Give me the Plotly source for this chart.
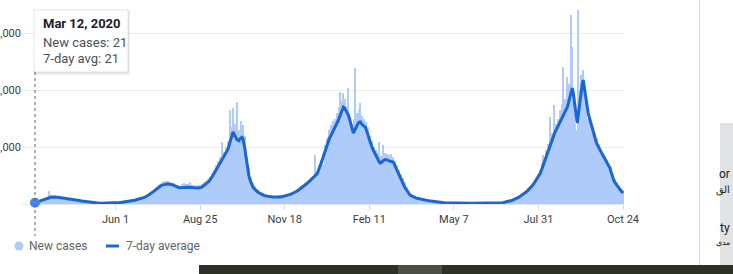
import pandas as pd
import plotly.graph_objects as go

# ---------------- data ----------------
start_date = "2020-03-12"

new_cases = [
    21, 18, 35, 30, 55, 40, 62, 75, 60, 95, 70, 110, 85, 130, 228, 90, 150, 105, 140, 118, 160,
    110, 135, 95, 140, 100, 125, 88, 110, 95, 80, 105, 70, 98, 85, 75, 95, 68, 88, 72, 80, 60, 78, 62, 70, 55,
    65, 48, 58, 42, 52, 38, 45, 30, 40, 28, 34, 22, 30, 18, 24, 14, 20, 12, 18, 10,
    14, 9, 15, 11, 16, 10, 15, 13, 17, 12, 18, 14, 19, 15, 22,
    17, 24, 20, 27, 22, 32, 26, 36, 30, 40, 33, 46, 38, 52, 44, 58,
    48, 64, 55, 72, 62, 80, 70, 90, 78, 100, 85, 118, 95, 135, 110, 150, 128,
    175, 140, 205, 160, 235, 190, 270, 215, 300, 245, 330, 260, 355,
    290, 380, 300, 395, 310, 410, 320, 405, 300, 390,
    310, 370, 280, 360, 255, 340, 240, 330, 220, 320,
    260, 345, 240, 360, 250, 355, 235, 350, 230, 380, 220, 340, 230, 330, 225, 320, 215, 335, 230, 330,
    250, 345, 260, 380, 290, 400, 310, 430, 340, 470,
    380, 540, 420, 600, 480, 680, 510, 760, 560, 830,
    640, 1088, 700, 920, 760, 1000, 830,
    1100, 880, 1650, 1000, 1350, 1684,
    1150, 1400, 950, 1790,
    900, 1300, 1000, 1450, 1050, 1380,
    880, 1200, 700, 820, 500, 640, 380, 450, 280, 360,
    240, 310, 200, 270, 180, 240, 160, 210, 150, 190,
    130, 175, 120, 165, 115, 155, 110, 150, 105, 145, 100, 148, 102, 145, 100, 150, 105,
    150, 110, 160, 115, 165, 120, 175, 130, 185, 140, 200, 150, 215, 165,
    230, 180, 255, 195, 280, 215, 310, 240, 340, 265, 370, 290, 400, 320,
    420, 340, 460, 370, 500, 400, 860, 440, 580, 470,
    680, 520, 780, 600, 880, 680, 980, 1035, 820, 1158,
    1050, 1300, 1000, 1380, 1100, 1450, 1150, 1500, 1200, 1600,
    1300, 1700, 1965, 1500, 1800, 1947,
    1400, 1850, 1350, 1700, 2035,
    1200, 1550, 900, 1400, 1000,
    1500, 2386, 1250, 1600, 1300, 1650, 1772,
    1200, 1550, 1150, 1500, 1250,
    1439, 1050, 1350, 950, 1200, 850, 1100, 800,
    1000, 700, 950, 650, 900, 1088, 600,
    850, 620, 1035, 650, 900, 700, 880,
    650, 860, 600, 880, 640, 820,
    560, 760, 480, 680, 420, 600, 380,
    520, 330, 460, 260, 380, 200, 300, 160, 230, 130,
    180, 110, 160, 95, 140, 88, 125, 80, 110, 75,
    100, 70, 95, 62, 88, 55, 80, 50, 72, 45, 65, 40, 58, 36, 52, 32, 48, 28, 42, 26, 36, 22, 32, 20, 28, 18, 24, 16,
    22, 14, 20, 13, 19, 12, 18, 12, 17, 11, 17, 10, 16, 10, 16, 9, 15, 9, 15, 9,
    14, 8, 14, 8, 14, 9, 13, 8, 14, 9, 13, 9, 14, 9, 15, 10, 15, 10, 15, 10,
    15, 10, 16, 10, 16, 10, 16, 11, 17, 11,
    19, 12, 22, 15, 27, 18, 34, 22, 42, 30, 55, 38, 68, 48, 82, 58, 98, 70, 115, 85,
    135, 100, 155, 120, 180, 140, 210, 165, 240, 190, 280, 220, 320,
    260, 360, 290, 410, 330, 460, 380, 520, 430, 600,
    500, 720, 860, 820, 640, 950, 780, 1050, 900, 1526,
    980, 1250, 1050, 1737, 1100, 1400, 1200, 1500, 1250, 1650,
    1300, 1750, 2400, 1450, 1850, 1500, 2228,
    1600, 2100, 1700, 3316, 2754,
    1800, 1600, 1400, 1300, 40,
    3404, 1700, 2000, 2263, 1850, 2350,
    1700, 1900, 1825, 1500, 1400,
    1600, 1300, 1450, 1200, 1350, 1100, 1250, 1000, 1150, 950, 1050, 900,
    950, 780, 900, 720, 840, 660, 780, 620, 700, 560,
    620, 460, 520, 400, 440, 340,
    380, 290, 320, 240, 270, 200, 230,
]

avg_7day = [
    21, 25, 30, 36, 42, 50, 58, 65, 72, 80, 88, 95, 100, 106, 112, 116, 119, 121, 123, 124, 123,
    122, 120, 118, 116, 112, 108, 104, 100, 96, 93, 90, 88, 86, 84, 82, 80, 78, 76, 74, 72, 70, 68, 66, 63, 60,
    57, 54, 51, 48, 45, 42, 39, 36, 33, 30, 27, 25, 23, 21, 19, 17, 16, 15, 14, 13,
    12, 12, 12, 12, 13, 13, 13, 14, 14, 15, 15, 16, 16, 17, 18,
    19, 20, 22, 23, 25, 27, 29, 31, 33, 35, 37, 40, 42, 45, 48, 50,
    54, 58, 62, 66, 70, 74, 78, 82, 86, 90, 96, 103, 110, 117, 124, 132, 140,
    152, 165, 178, 192, 206, 220, 235, 250, 264, 278, 290, 302, 316,
    324, 331, 337, 342, 346, 349, 351, 352, 351, 350,
    345, 338, 330, 321, 312, 303, 296, 290, 286, 284,
    286, 290, 294, 297, 299, 298, 296, 293, 291, 295, 292, 288, 285, 283, 282, 281, 280, 279, 280, 282,
    290, 300, 312, 325, 340, 355, 370, 385, 400, 420,
    445, 475, 505, 535, 565, 595, 625, 655, 690, 720,
    745, 770, 795, 825, 855, 885, 910,
    960, 1020, 1080, 1140, 1200, 1263,
    1230, 1190, 1150, 1130,
    1120, 1110, 1140, 1160, 1170, 1150,
    1080, 970, 840, 700, 590, 500, 430, 375, 330, 300,
    275, 255, 238, 222, 208, 196, 185, 175, 166, 158,
    152, 146, 141, 137, 134, 131, 129, 127, 125, 124, 123, 122, 122, 122, 122, 123, 123,
    125, 128, 131, 135, 139, 143, 148, 153, 158, 164, 170, 177, 185, 193,
    202, 212, 222, 233, 245, 257, 270, 283, 296, 310, 324, 338, 353, 368,
    383, 398, 414, 430, 446, 463, 480, 498, 520, 544,
    585, 630, 680, 735, 790, 845, 900, 955, 1010, 1070,
    1110, 1150, 1185, 1220, 1255, 1290, 1320, 1350, 1385, 1421,
    1470, 1520, 1570, 1620, 1665, 1702,
    1690, 1660, 1620, 1590, 1561,
    1500, 1430, 1360, 1290, 1246,
    1280, 1320, 1360, 1390, 1420, 1435, 1439,
    1410, 1390, 1375, 1360, 1351,
    1310, 1260, 1200, 1140, 1080, 1030, 985, 947,
    910, 870, 830, 795, 765, 740, 719,
    725, 740, 760, 775, 780, 778, 772,
    765, 750, 740, 745, 742, 737,
    705, 665, 620, 575, 530, 500, 474,
    440, 400, 360, 320, 285, 255, 230, 205, 180, 158,
    145, 135, 127, 120, 113, 107, 101, 96, 92, 88,
    85, 81, 77, 73, 69, 65, 62, 59, 56, 53, 50, 47, 45, 43, 41, 39, 37, 35, 33, 31, 29, 27, 25, 23, 22, 21, 19, 18,
    18, 17, 17, 16, 16, 15, 15, 15, 14, 14, 14, 13, 13, 13, 13, 12, 12, 12, 12, 12,
    11, 11, 11, 11, 11, 11, 11, 11, 11, 11, 11, 11, 11, 11, 12, 12, 12, 12, 12, 12,
    12, 12, 12, 12, 12, 12, 12, 12, 12, 13,
    14, 16, 18, 20, 23, 26, 29, 33, 37, 41, 46, 51, 56, 62, 68, 74, 81, 88, 96, 105,
    115, 126, 137, 149, 161, 174, 187, 201, 215, 230, 246, 263, 280,
    300, 322, 346, 372, 399, 428, 458, 489, 516, 544,
    590, 640, 695, 750, 805, 860, 915, 965, 1015, 1070,
    1110, 1150, 1190, 1230, 1270, 1305, 1340, 1375, 1405, 1439,
    1480, 1520, 1560, 1600, 1640, 1670, 1700,
    1760, 1830, 1900, 1970, 2035,
    1950, 1820, 1680, 1540, 1420,
    1550, 1700, 1850, 1990, 2100, 2175,
    2050, 1900, 1750, 1650, 1596,
    1530, 1460, 1390, 1320, 1255, 1195, 1140, 1090, 1045, 1005, 975, 947,
    915, 880, 845, 810, 775, 740, 705, 675, 649, 625,
    560, 500, 440, 400, 375, 355,
    330, 305, 280, 255, 232, 212, 193,
]

x_tick_dates = ["2020-06-01", "2020-08-25", "2020-11-18", "2021-02-11",
                "2021-05-07", "2021-07-31", "2021-10-24"]
x_tick_labels = ["Jun 1", "Aug 25", "Nov 18", "Feb 11", "May 7", "Jul 31", "Oct 24"]
y_tick_values = [1000, 2000, 3000]
y_tick_labels = ["1,000", "2,000", "3,000"]

legend_labels = ["New cases", "7-day average"]

dates_daily = pd.date_range(start_date, periods=len(new_cases), freq="D")
dates_avg = pd.date_range(start_date, periods=len(avg_7day), freq="D")

# ---------------- styling / geometry ----------------
W, H = 733, 274
L, R, T, B = 22, 624, 5, 204          # plot area in pixels
BAR_COLOR = "#aecbfa"
LINE_COLOR = "#1a67d2"
DOT_COLOR = "#4285f4"
FONT = "Roboto, Arial, sans-serif"


def px(x):
    return (x - L) / (R - L)


def py(y):
    return (B - y) / (B - T)


fig = go.Figure()
fig.add_trace(go.Bar(
    x=dates_daily, y=new_cases, marker=dict(color=BAR_COLOR, line=dict(width=0)),
    name=legend_labels[0], showlegend=False, hoverinfo="skip"))
fig.add_trace(go.Scatter(
    x=dates_avg, y=avg_7day, mode="lines", line=dict(color=LINE_COLOR, width=3),
    name=legend_labels[1], showlegend=False, hoverinfo="skip"))
fig.add_trace(go.Scatter(
    x=[dates_avg[0]], y=[avg_7day[0]], mode="markers",
    marker=dict(color=DOT_COLOR, size=10, line=dict(width=0)),
    showlegend=False, hoverinfo="skip", cliponaxis=False))

shapes = []
annotations = []

# hover guide line (dotted)
shapes.append(dict(type="line", xref="paper", yref="paper",
                   x0=px(35), x1=px(35), y0=py(72), y1=py(236),
                   line=dict(color="#5f6368", width=1, dash="dot"), layer="above"))

# tooltip box with soft shadow
shapes.append(dict(type="rect", xref="paper", yref="paper",
                   x0=px(34), x1=px(130), y0=py(11), y1=py(75),
                   fillcolor="rgba(0,0,0,0.07)", line=dict(width=0), layer="above"))
shapes.append(dict(type="rect", xref="paper", yref="paper",
                   x0=px(34), x1=px(128), y0=py(10), y1=py(72),
                   fillcolor="white", line=dict(color="rgba(0,0,0,0.10)", width=1), layer="above"))

d0 = dates_daily[0]
tooltip_lines = [
    (f"<b>{d0.strftime('%b')} {d0.day}, {d0.year}</b>", 24, "#202124"),
    (f"New cases: {new_cases[0]}", 42, "#4d5156"),
    (f"7-day avg: {avg_7day[0]}", 59, "#4d5156"),
]
for txt, yy, col in tooltip_lines:
    annotations.append(dict(text=txt, xref="paper", yref="paper", x=px(41), y=py(yy),
                            xanchor="left", yanchor="middle", showarrow=False,
                            font=dict(family=FONT, size=13, color=col)))

# custom legend
shapes.append(dict(type="circle", xref="paper", yref="paper",
                   x0=px(14.5), x1=px(23.5), y0=py(241.5), y1=py(250.5),
                   fillcolor=BAR_COLOR, line=dict(width=0)))
annotations.append(dict(text=legend_labels[0], xref="paper", yref="paper", x=px(27), y=py(246),
                        xanchor="left", yanchor="middle", showarrow=False,
                        font=dict(family=FONT, size=12, color="#5f6368")))
shapes.append(dict(type="line", xref="paper", yref="paper",
                   x0=px(106), x1=px(119), y0=py(246), y1=py(246),
                   line=dict(color=LINE_COLOR, width=3)))
annotations.append(dict(text=legend_labels[1], xref="paper", yref="paper", x=px(124), y=py(246),
                        xanchor="left", yanchor="middle", showarrow=False,
                        font=dict(family=FONT, size=12, color="#5f6368")))

# surrounding page fragments
shapes.append(dict(type="line", xref="paper", yref="paper",
                   x0=px(699.5), x1=px(699.5), y0=py(0), y1=py(265),
                   line=dict(color="#dadce0", width=1)))
shapes.append(dict(type="rect", xref="paper", yref="paper",
                   x0=px(720), x1=px(745), y0=py(123), y1=py(265),
                   fillcolor="#e2e3e5", line=dict(width=0)))
shapes.append(dict(type="rect", xref="paper", yref="paper",
                   x0=px(199), x1=px(745), y0=py(265), y1=py(280),
                   fillcolor="#2c3126", line=dict(width=0)))
shapes.append(dict(type="rect", xref="paper", yref="paper",
                   x0=px(398), x1=px(442), y0=py(265), y1=py(280),
                   fillcolor="#4a4e46", line=dict(width=0)))
for txt, yy, sz in [("or", 174, 12), ("الق", 190, 10),
                    ("ty", 228, 12), ("مدي", 242, 8)]:
    annotations.append(dict(text=txt, xref="paper", yref="paper", x=px(732), y=py(yy),
                            xanchor="right", yanchor="middle", showarrow=False,
                            font=dict(family="Roboto, 'Noto Sans', sans-serif", size=sz, color="#202124")))

fig.update_layout(
    width=W, height=H,
    margin=dict(l=L, r=W - R, t=T, b=H - B, pad=0, autoexpand=False),
    paper_bgcolor="white", plot_bgcolor="white",
    bargap=0, showlegend=False,
    font=dict(family=FONT, size=11, color="#3c4043"),
    shapes=shapes, annotations=annotations,
    xaxis=dict(type="date", range=["2020-02-28", "2021-10-25"], automargin=False,
               tickvals=x_tick_dates, ticktext=x_tick_labels,
               showgrid=False, zeroline=False, showline=False,
               ticks="outside", ticklen=5, tickcolor="#dadce0", tickwidth=1,
               tickfont=dict(family=FONT, size=11, color="#3c4043")),
    yaxis=dict(range=[0, (B - T) / 57 * 1000], tickvals=y_tick_values, ticktext=y_tick_labels,
               automargin=False,
               showgrid=True, gridcolor="#ececec", gridwidth=1,
               zeroline=True, zerolinecolor="#e6e6e6", zerolinewidth=1,
               showline=False, ticks="",
               tickfont=dict(family=FONT, size=11, color="#3c4043")),
)

fig.write_html("out.html")
